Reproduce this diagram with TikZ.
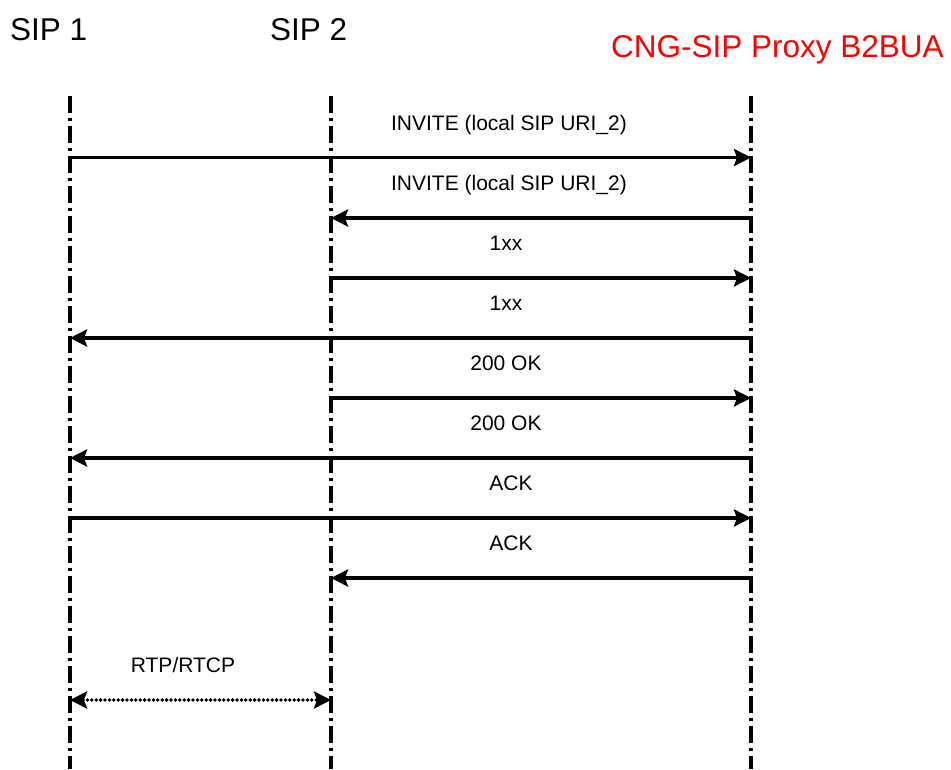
\documentclass[tikz,border=0pt]{standalone}
\usepackage{fontspec}
\setmainfont{Liberation Sans}
\usetikzlibrary{arrows.meta}

\begin{document}
\begin{tikzpicture}[
        x=1pt, y=-1pt,
        every node/.style={font=\fontsize{21}{25}\selectfont, inner sep=0pt},
        header/.style={font=\fontsize{31.5}{38}\selectfont, anchor=base west},
        lifeline/.style={line width=3.2pt, dash pattern=on 17pt off 5pt on 2.5pt off 5.5pt},
        msg/.style={line width=3.6pt, -{Stealth[length=17pt, width=17pt, inset=3pt]}},
        media/.style={line width=3.8pt, line cap=round, dash pattern=on 0pt off 4.4pt,
            {Stealth[length=17pt, width=17pt, inset=3pt]}-{Stealth[length=17pt, width=17pt, inset=3pt]}},
        lbl/.style={anchor=base}
    ]
    \useasboundingbox (0,0) rectangle (951,769);

    % entities
    \node[header] (sip1) at (10,40) {SIP 1};
    \node[header] (sip2) at (270,40) {SIP 2};
    \node[header, text=red] (proxy) at (611,57) {CNG-SIP Proxy B2BUA};

    % lifelines
    \coordinate (s1) at (70,96);
    \coordinate (s2) at (331,96);
    \coordinate (px) at (751,96);
    \coordinate (s1end) at (70,769);
    \coordinate (s2end) at (331,769);
    \coordinate (pxend) at (751,769);
    \draw[lifeline] (s1) -- (s1end);
    \draw[lifeline] (s2) -- (s2end);
    \draw[lifeline] (px) -- (pxend);

    % signalling
    \draw[msg] (s1 |- 0,157.5) -- (px |- 0,157.5);
    \node[lbl] (inv1) at (509,130) {INVITE (local SIP URI\_2)};
    \draw[msg] (px |- 0,218) -- (s2 |- 0,218);
    \node[lbl] (inv2) at (509,190) {INVITE (local SIP URI\_2)};
    \draw[msg] (s2 |- 0,278) -- (px |- 0,278);
    \node[lbl] (prov1) at (506,250) {1xx};
    \draw[msg] (px |- 0,338) -- (s1 |- 0,338);
    \node[lbl] (prov2) at (506,310) {1xx};
    \draw[msg] (s2 |- 0,398) -- (px |- 0,398);
    \node[lbl] (ok1) at (506,370) {200 OK};
    \draw[msg] (px |- 0,458) -- (s1 |- 0,458);
    \node[lbl] (ok2) at (506,430) {200 OK};
    \draw[msg] (s1 |- 0,518) -- (px |- 0,518);
    \node[lbl] (ack1) at (511,490) {ACK};
    \draw[msg] (px |- 0,578) -- (s2 |- 0,578);
    \node[lbl] (ack2) at (511,550) {ACK};

    % media
    \draw[media] (s1 |- 0,700) -- (s2 |- 0,700);
    \node[lbl] (rtp) at (183,672) {RTP/RTCP};
\end{tikzpicture}
\end{document}
